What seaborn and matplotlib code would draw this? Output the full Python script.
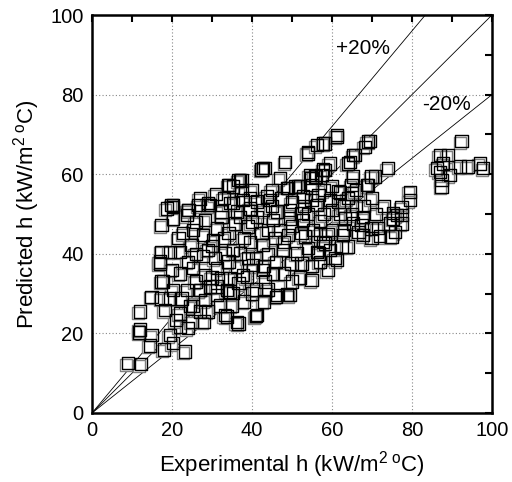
import numpy as np
import pandas as pd
import matplotlib
matplotlib.use("Agg")
import matplotlib.pyplot as plt
import matplotlib.transforms as mtransforms
import seaborn as sns

# ---- data ----
exp_h = [
    9, 12.2, 11.8, 12, 14.9, 14.5, 18, 20.2, 23.2, 19.5, 22, 24, 21, 12, 14.9, 17.4, 18.2, 17.8, 20.2, 23.7,
    25.3, 27, 29, 33.7, 36.6, 41, 46, 48.7, 17, 17.4, 19.5, 22, 17.4, 20.3, 24, 29.5,
    24.5, 28.2, 31.2, 33.7, 36.6, 38.7, 32.4, 29.5, 27, 33.2, 36.2, 41.2,
    48.3, 43.2, 42.4, 37.4, 34.3, 37.4, 27, 20.3, 29, 35.3, 39.5, 43.7, 48.7, 50.7,
    61.2, 58.2, 54, 69.5, 68.2, 65.7, 59.5, 64, 74, 70.7, 69, 65.3, 64.9, 62, 61.6, 57.8, 56, 54.5, 52,
    79.5, 79.5, 77.4, 92.4, 87, 89, 87.8, 87, 87.4, 89.5, 92, 94, 97, 97.8, 86.2, 87.4,
    77.4, 77.4, 75.7, 75.3,
    63.2, 65.3, 67.4, 69.9, 69.9, 67.8, 62.8, 62.4, 64, 59.5, 57.8, 56.2, 60.7, 59, 54.9, 57, 74.5, 74.9,
    76.2, 71.5, 72,
    61.2, 52.4, 49.5, 53.2, 56.6, 58.2, 66.6,
    46.2, 49.9, 45.3, 43.2, 42.8, 40.3, 37.8, 35.3, 54, 51.2, 47.8, 42.8, 39.5, 37, 36.2, 55.3, 52.4, 49,
    45.7, 42.4, 39, 37, 41.2, 45.3, 49.5, 52.8, 34.5,
    17, 21.6, 24.9, 27.8, 25.3, 28.2, 31.2, 34.1, 30.7, 33.2, 35.3, 30.3, 27.8, 25.3, 22.8, 31.2, 34.1,
    35.7, 32.4, 28.2, 23.7, 20.3, 27, 31.2, 34.5, 19.5, 22.4, 17.4,
    42.8, 54, 56.2, 37, 49, 51.5, 54.9, 35.3, 54.9, 52.8, 47.4, 44.5, 41.2, 37.8, 39.5, 42.8, 46.2, 49.5,
    52.4, 36.2,
    61.2, 57.8, 69, 65.3, 64.5, 58.2, 69.9, 68.7, 64.9, 61.6, 59.5, 57.4, 55.7, 54.9, 56.6, 56.2, 67.8, 75.3,
    34.1, 36.6, 19.9, 18.7, 24.1, 26.6, 29.1, 32.4, 34.5,
    44, 47, 50, 53, 58, 60, 60, 62, 58, 60, 63, 66, 64, 47, 45, 40, 38, 44, 46, 48, 50, 52, 55, 57, 41, 39,
    43, 40, 38, 30, 26, 24, 22, 20, 26, 30, 22, 25, 28, 32, 35, 41, 44, 57, 59, 48, 43, 33, 29, 26, 31, 33,
    40, 45, 50, 54, 63, 65, 68, 71, 70, 66, 73,
]
pred_h = [
    12.5, 12.3, 20.2, 21, 19.6, 17, 16, 17.6, 15.4, 19.6, 21.7, 21.3, 23.4, 25.5, 29.2, 28.8, 25.9, 33, 30.9, 30.9,
    26.9, 25.5, 25.5, 24.2, 22.5, 24.4, 29.2, 29.8, 37.6, 40.5, 40.5, 40.5, 47.2, 51.8, 51, 52.3,
    26.9, 28.4, 29.6, 30.9, 32.6, 34.2, 33.8, 31.8, 30.9, 24.6, 22.9, 24.6,
    63.1, 61.5, 61.2, 58.4, 57.3, 56, 53.9, 52.3, 52.7, 52.8, 53.9, 54.4, 56.5, 56.9,
    69.4, 67.7, 65.6, 68.3, 66.9, 64.8, 62.7, 62.7, 61.5, 59.4, 57.3, 59.4, 57.3, 55.4, 53.1, 61.2, 59.4, 59.8, 56.9,
    55.6, 53.5, 51.8, 68.3, 64.8, 64.8, 62.7, 60.6, 58.5, 59.8, 61.9, 61.9, 62.7, 61.5, 61.5, 56.9,
    49.7, 47.6, 45.5, 50.2,
    48.9, 47.6, 47.2, 46.4, 43.9, 44.7, 44.7, 41.8, 41.8, 41, 43, 40.5, 38.9, 35.9, 33.4, 48.2, 47.6, 44.3,
    49.7, 46.5, 44.5,
    38.4, 37.6, 29.6, 44.3, 40.1, 42.6, 45.5,
    29.6, 37.6, 35.1, 33, 35.9, 37.2, 34.7, 30.1, 41.4, 40.1, 41, 42.2, 43, 40.1, 36.8, 46, 45.2, 44.7,
    43.9, 45.2, 46.9, 49.3, 49.3, 48.5, 48.9, 48.5, 30.5,
    38.1, 43.9, 42.2, 39.4, 36.4, 34.7, 36.4, 38.1, 38.9, 40.1, 41, 43.5, 44.7, 46, 45.2, 46.4, 45.2,
    47.6, 49.3, 48.5, 49.7, 48.9, 30.9, 31.8, 33.8, 28.8, 28.8, 33,
    61.5, 65.2, 67.3, 58.5, 56.5, 56.9, 59, 56.9, 53.5, 54.4, 53.9, 53.5, 53.1, 53.5, 51.4, 51, 50.6, 51,
    50.2, 50.6,
    69.8, 67.7, 68.2, 64.8, 63.1, 61.1, 59.4, 57.3, 55.2, 55.7, 53.5, 59.8, 59.4, 57.3, 54.8, 52.3, 49.3, 48.9,
    57.3, 58.5, 52.3, 51.4, 51, 52.3, 52.3, 50.6, 52.7,
    46, 46, 47, 52, 50, 51, 46, 50, 56, 57, 52, 52, 54, 59, 56, 56, 44, 40, 38, 35, 33, 34, 37, 38, 39, 39,
    28, 30, 28, 42, 40, 38, 35, 36, 33, 34, 25, 23, 23, 27, 27, 31, 31, 45, 45, 43, 37, 44, 41, 48, 55, 54,
    48, 52, 53, 50, 46, 50, 52, 50, 54, 56, 52,
]
line_x = [0, 100]
bands = {"+20%": 1.2, "0%": 1.0, "-20%": 0.8}
x_ticks = [0, 20, 40, 60, 80, 100]
y_ticks = [0, 20, 40, 60, 80, 100]

df = pd.DataFrame({"exp": exp_h, "pred": pred_h})

sns.set_style("white")
plt.rcParams["font.family"] = ["Liberation Sans", "DejaVu Sans"]
plt.rcParams["mathtext.fontset"] = "custom"
plt.rcParams["mathtext.rm"] = "Liberation Sans"
plt.rcParams["mathtext.it"] = "Liberation Sans"
for key in ["text.color", "axes.labelcolor", "xtick.color", "ytick.color", "axes.edgecolor"]:
    plt.rcParams[key] = "black"

fig = plt.figure(figsize=(5.12, 4.82), dpi=100)
ax = fig.add_axes([92 / 512, (482 - 413) / 482, 400 / 512, 398 / 482])

# reference lines
for name, k in bands.items():
    ax.plot(line_x, [k * v for v in line_x], color="black", lw=0.6, zorder=2)

# shadowed open squares
off = mtransforms.ScaledTranslation(-1.2 / 72, -1.2 / 72, fig.dpi_scale_trans)
sns.scatterplot(data=df, x="exp", y="pred", ax=ax, marker="s", s=80,
                facecolor="white", edgecolor="#808080", linewidth=1.0,
                transform=ax.transData + off, zorder=3)
sns.scatterplot(data=df, x="exp", y="pred", ax=ax, marker="s", s=80,
                facecolor="none", edgecolor="black", linewidth=1.0, zorder=4)

ax.text(61, 91.5, "+20%", fontsize=15, va="center", ha="left", color="black")
ax.text(82.5, 77.5, "-20%", fontsize=15, va="center", ha="left", color="black")

ax.set_xlim(0, 100)
ax.set_ylim(0, 100)
ax.set_xticks(x_ticks)
ax.set_yticks(y_ticks)
ax.set_xticks(range(10, 100, 20), minor=True)
ax.set_yticks(range(10, 100, 20), minor=True)
ax.tick_params(which="both", direction="in", top=True, right=True, width=1.5, labelsize=14.5, pad=6,
               colors="black")
ax.tick_params(which="major", length=5)
ax.tick_params(which="minor", length=5)
ax.grid(True, which="major", color="#888888", linestyle=(0, (1, 2)), lw=0.8)
for s in ax.spines.values():
    s.set_linewidth(1.8)
    s.set_color("black")

ax.set_xlabel(r"Experimental h (kW/m$^{2\ o}$C)", fontsize=16, labelpad=6, color="black")
ax.set_ylabel(r"Predicted h (kW/m$^{2\ o}$C)", fontsize=16, labelpad=6, color="black")

fig.savefig("out.png", dpi=100)
